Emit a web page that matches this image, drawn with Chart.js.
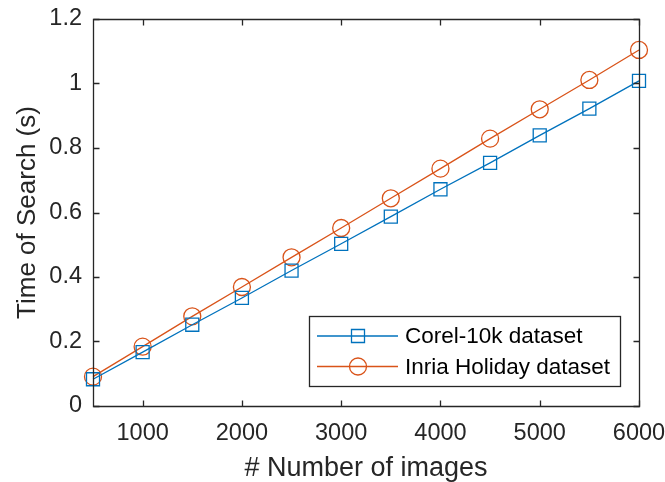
<!DOCTYPE html>
<html>
<head>
<meta charset="utf-8">
<script src="https://cdn.jsdelivr.net/npm/chart.js@4/dist/chart.umd.min.js"></script>
<style>
html,body{margin:0;padding:0;background:#fff;}
#wrap{width:665px;height:482px;}
</style>
</head>
<body>
<div id="wrap"><canvas id="c" width="665" height="482"></canvas></div>
<script>
const numImages = [500, 1000, 1500, 2000, 2500, 3000, 3500, 4000, 4500, 5000, 5500, 6000];
const corel10k = [0.083, 0.167, 0.252, 0.335, 0.420, 0.503, 0.587, 0.672, 0.754, 0.839, 0.922, 1.008];
const inriaHoliday = [0.091, 0.184, 0.278, 0.369, 0.461, 0.552, 0.644, 0.736, 0.829, 0.920, 1.011, 1.104];
const seriesNames = ['Corel-10k dataset', 'Inria Holiday dataset'];
const xTicks = [1000, 2000, 3000, 4000, 5000, 6000];
const xTickLabels = ['1000', '2000', '3000', '4000', '5000', '6000'];
const yTicks = [0, 0.2, 0.4, 0.6, 0.8, 1, 1.2];
const yTickLabels = ['0', '0.2', '0.4', '0.6', '0.8', '1', '1.2'];
const xTitle = '# Number of images';
const yTitle = 'Time of Search (s)';

const FONT = '"Liberation Sans", Arial, Helvetica, sans-serif';
const AXIS = '#262626';
const BLUE = '#0072BD';
const ORANGE = '#D95319';

function toPoints(xs, ys){ return xs.map((x,i)=>({x:x, y:ys[i]})); }

const boxTicks = {
  id: 'boxTicks',
  afterDatasetsDraw(chart){
    const {ctx, chartArea:a, scales} = chart;
    const L = Math.round(a.left)+0.5, R = Math.round(a.right)+0.5, T = Math.round(a.top)+0.5, B = Math.round(a.bottom)+0.5;
    ctx.save();
    ctx.strokeStyle = AXIS;
    ctx.lineWidth = 1.3;
    ctx.beginPath();
    ctx.rect(L, T, R-L, B-T);
    ctx.stroke();
    const tl = 6;
    ctx.beginPath();
    scales.x.ticks.forEach(t=>{
      const px = Math.round(scales.x.getPixelForValue(t.value))+0.5;
      ctx.moveTo(px, B); ctx.lineTo(px, B-tl);
      ctx.moveTo(px, T); ctx.lineTo(px, T+tl);
    });
    scales.y.ticks.forEach(t=>{
      const py = Math.round(scales.y.getPixelForValue(t.value))+0.5;
      ctx.moveTo(L, py); ctx.lineTo(L+tl, py);
      ctx.moveTo(R, py); ctx.lineTo(R-tl, py);
    });
    ctx.stroke();
    ctx.restore();
  }
};

function drawMarker(ctx, style, x, y, r){
  ctx.beginPath();
  if (style === 'rect'){
    const s = Math.SQRT1_2 * r;
    ctx.rect(x - s, y - s, 2*s, 2*s);
  } else {
    ctx.arc(x, y, r, 0, Math.PI*2);
  }
  ctx.stroke();
}

const boxLegend = {
  id: 'boxLegend',
  afterDraw(chart){
    const {ctx} = chart;
    const bx = 309, by = 316, bw = 311, bh = 70;
    ctx.save();
    ctx.fillStyle = '#fff';
    ctx.fillRect(bx, by, bw, bh);
    ctx.strokeStyle = AXIS;
    ctx.lineWidth = 1.3;
    ctx.strokeRect(bx+0.5, by+0.5, bw, bh);
    chart.data.datasets.forEach((ds, i)=>{
      const cy = by + 20 + i*30.5;
      ctx.strokeStyle = ds.borderColor;
      ctx.lineWidth = ds.borderWidth;
      ctx.beginPath();
      ctx.moveTo(317, cy); ctx.lineTo(398, cy);
      ctx.stroke();
      drawMarker(ctx, ds.pointStyle, 358, cy, ds.pointRadius);
      ctx.fillStyle = '#000';
      ctx.font = '22.5px ' + FONT;
      ctx.textBaseline = 'middle';
      ctx.textAlign = 'left';
      ctx.fillText(ds.label, 405, cy + 1);
    });
    ctx.restore();
  }
};

new Chart(document.getElementById('c'), {
  type: 'line',
  data: {
    datasets: [
      {
        label: seriesNames[0],
        data: toPoints(numImages, corel10k),
        borderColor: BLUE,
        backgroundColor: 'rgba(0,0,0,0)',
        borderWidth: 1.3,
        pointStyle: 'rect',
        pointRadius: 9.2,
        pointBorderWidth: 1.3,
        pointBackgroundColor: 'rgba(0,0,0,0)',
        pointBorderColor: BLUE,
        tension: 0
      },
      {
        label: seriesNames[1],
        data: toPoints(numImages, inriaHoliday),
        borderColor: ORANGE,
        backgroundColor: 'rgba(0,0,0,0)',
        borderWidth: 1.3,
        pointStyle: 'circle',
        pointRadius: 8.5,
        pointBorderWidth: 1.3,
        pointBackgroundColor: 'rgba(0,0,0,0)',
        pointBorderColor: ORANGE,
        tension: 0
      }
    ]
  },
  options: {
    responsive: false,
    devicePixelRatio: 1,
    animation: false,
    clip: false,
    layout: { padding: { left: 0, top: 19, right: 26, bottom: 0 } },
    plugins: { legend: { display: false }, tooltip: { enabled: false } },
    scales: {
      x: {
        type: 'linear',
        min: 500, max: 6000,
        afterBuildTicks: s => { s.ticks = xTicks.map(v=>({value:v})); },
        afterFit: s => { s.height = 76; s.paddingLeft = 0; s.paddingRight = 0; },
        grid: { display: false },
        border: { display: false },
        ticks: { color: '#262626', font: { family: FONT, size: 23.5 }, padding: 5, maxRotation: 0, autoSkip: false,
          callback: (v) => { const i = xTicks.indexOf(v); return i >= 0 ? xTickLabels[i] : ''; } },
        title: { display: true, text: xTitle, color: '#262626', font: { family: FONT, size: 27, lineHeight: 1.0 }, padding: { top: 0, bottom: 0 } }
      },
      y: {
        type: 'linear',
        min: 0, max: 1.2,
        afterBuildTicks: s => { s.ticks = yTicks.map(v=>({value:v})); },
        afterFit: s => { s.width = 93; s.paddingTop = 0; s.paddingBottom = 0; },
        grid: { display: false },
        border: { display: false },
        ticks: { color: '#262626', font: { family: FONT, size: 23.5 }, padding: 3,
          callback: (v) => { const i = yTicks.indexOf(v); return i >= 0 ? yTickLabels[i] : ''; } },
        title: { display: true, text: yTitle, color: '#262626', font: { family: FONT, size: 26, lineHeight: 1.0 }, padding: { top: 15, bottom: 0 } }
      }
    }
  },
  plugins: [boxTicks, boxLegend]
});
</script>
</body>
</html>
